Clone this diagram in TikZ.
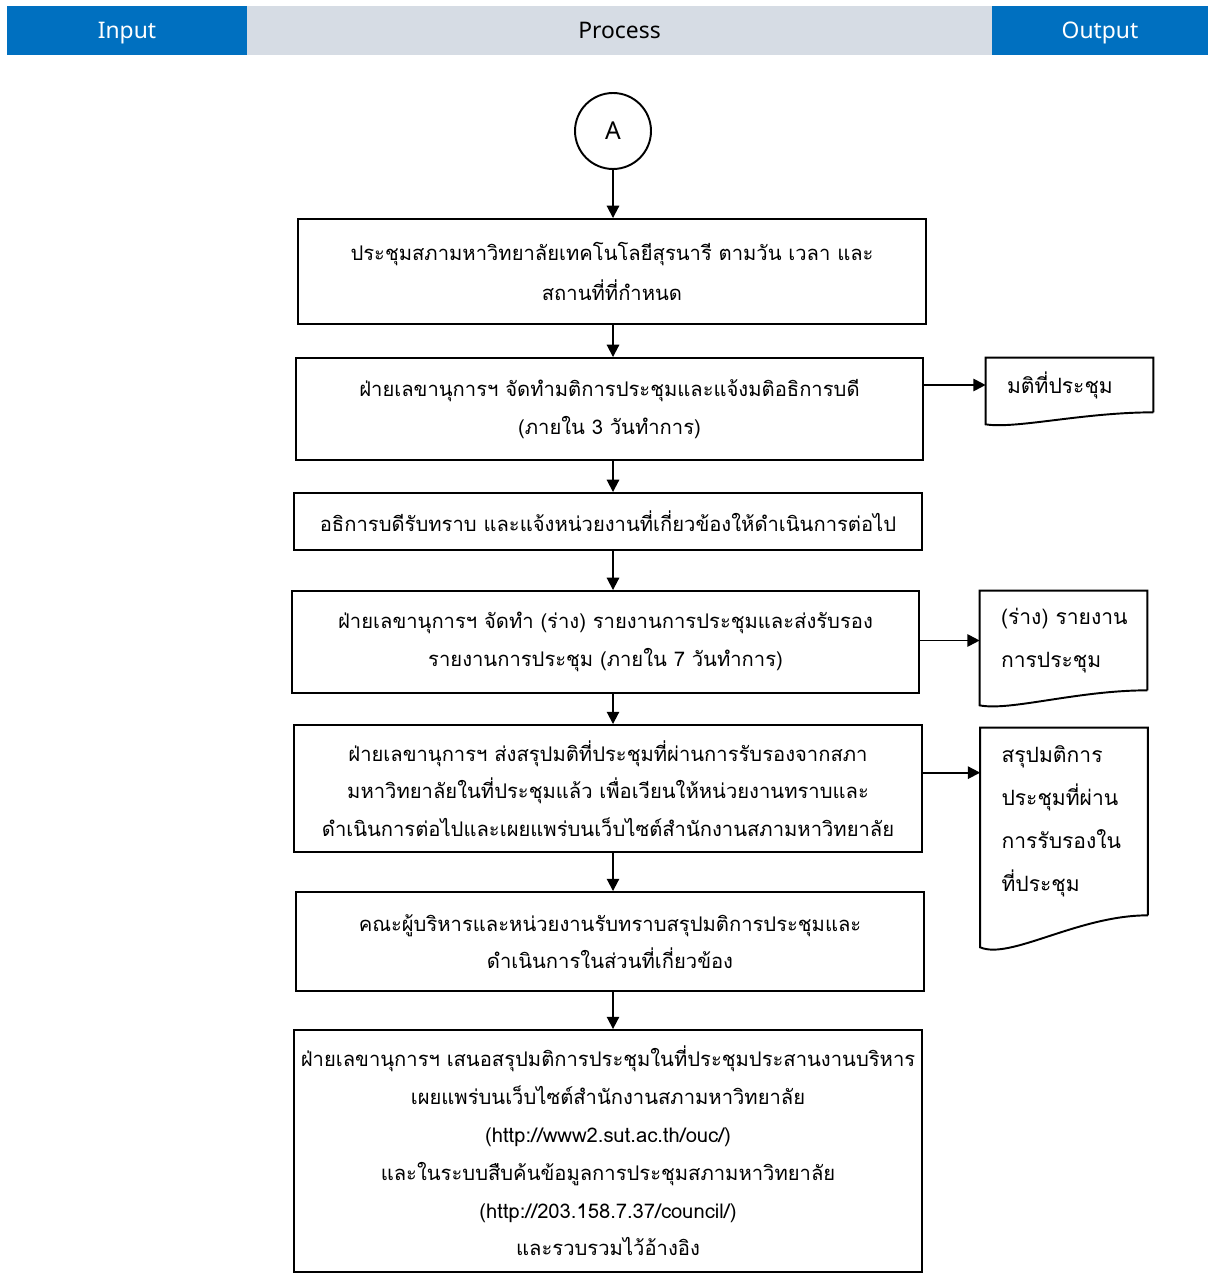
\documentclass[tikz,border=0pt]{standalone}
\usepackage{fontspec}
\setmainfont{Noto Sans}
\newfontfamily\thaifont[Script=Thai]{Loma}
\usetikzlibrary{arrows.meta}
\definecolor{headblue}{HTML}{0070C0}
\definecolor{headgray}{HTML}{D6DCE4}
\tikzset{
  headcell/.style={minimum height=0.98cm, inner sep=0pt, text height=2ex, text depth=0.3ex,
    font=\fontsize{13}{15}\selectfont},
  stepbox/.style={draw, line width=1.1pt, align=center, inner sep=0pt,
    font=\thaifont\fontsize{11.5}{21.5}\selectfont},
  docbox/.style={inner xsep=0.42cm, inner ysep=0pt, text width=2.5cm, align=left,
    minimum width=3.34cm, font=\thaifont\fontsize{12}{24.5}\selectfont},
  flow/.style={->, line width=1.1pt},
  >={Triangle[length=7pt,width=7pt]}
}
% outline of a document symbol round a node, #2 = drop of the left corner (px)
\newcommand\docoutline[2]{%
  \draw[line width=1.1pt] (#1.south east) -- (#1.north east) -- (#1.north west)
    -- ([yshift=-#2*0.02cm]#1.south west)
    .. controls +(30,0.4*#2) and +(-70,0) .. (#1.south east);}
\begin{document}
\begin{tikzpicture}[x=0.02cm, y=-0.02cm]
\useasboundingbox (0,0) rectangle (1208,1273);
% header
\node[headcell, fill=headblue, text=white, minimum width=4.8cm] (hin) at (127,30.5) {Input};
\node[headcell, fill=headgray, minimum width=14.9cm] (hproc) at (619.5,30.5) {Process};
\node[headcell, fill=headblue, text=white, minimum width=4.32cm] (hout) at (1100,30.5) {Output};
% connector
\node[draw, circle, line width=1.1pt, minimum size=1.52cm, font=\fontsize{14}{16}\selectfont] (a) at (613,131) {A};
% steps
\node[stepbox, minimum width=12.56cm, minimum height=2.1cm] (b1) at (612,271.5)
  {ประชุมสภามหาวิทยาลัยเทคโนโลยีสุรนารี ตามวัน เวลา และ\\[1.5pt]สถานที่ที่กำหนด};
\node[stepbox, minimum width=12.54cm, minimum height=2.04cm] (b2) at (609.5,409)
  {ฝ่ายเลขานุการฯ จัดทำมติการประชุมและแจ้งมติอธิการบดี\\(ภายใน 3 วันทำการ)};
\node[stepbox, minimum width=12.56cm, minimum height=1.14cm] (b3) at (608,521.5)
  {อธิการบดีรับทราบ และแจ้งหน่วยงานที่เกี่ยวข้องให้ดำเนินการต่อไป};
\node[stepbox, minimum width=12.54cm, minimum height=2.04cm] (b4) at (605.5,642)
  {ฝ่ายเลขานุการฯ จัดทำ (ร่าง) รายงานการประชุมและส่งรับรอง\\รายงานการประชุม (ภายใน 7 วันทำการ)};
\node[stepbox, minimum width=12.56cm, minimum height=2.54cm] (b5) at (608,788.5)
  {ฝ่ายเลขานุการฯ ส่งสรุปมติที่ประชุมที่ผ่านการรับรองจากสภา\\มหาวิทยาลัยในที่ประชุมแล้ว เพื่อเวียนให้หน่วยงานทราบและ\\ดำเนินการต่อไปและเผยแพร่บนเว็บไซต์สำนักงานสภามหาวิทยาลัย};
\node[stepbox, minimum width=12.56cm, minimum height=1.98cm] (b6) at (610,941.5)
  {คณะผู้บริหารและหน่วยงานรับทราบสรุปมติการประชุมและ\\ดำเนินการในส่วนที่เกี่ยวข้อง};
\node[stepbox, minimum width=12.56cm, minimum height=4.84cm] (b7) at (608,1151)
  {ฝ่ายเลขานุการฯ เสนอสรุปมติการประชุมในที่ประชุมประสานงานบริหาร\\เผยแพร่บนเว็บไซต์สำนักงานสภามหาวิทยาลัย\\(http://www2.sut.ac.th/ouc/)\\และในระบบสืบค้นข้อมูลการประชุมสภามหาวิทยาลัย\\(http://203.158.7.37/council/)\\และรวบรวมไว้อ้างอิง};
% outputs
\node[docbox, minimum height=1.08cm] (d1) at (1069.5,385) {มติที่ประชุม};
\node[docbox, minimum height=1.98cm] (d2) at (1063.5,640.5) {(ร่าง)~รายงาน\\การประชุม};
\node[docbox, minimum height=3.74cm] (d3) at (1064,821.5) {สรุปมติการ\\ประชุมที่ผ่าน\\การรับรองใน\\ที่ประชุม};
\docoutline{d1}{12}
\docoutline{d2}{15}
\docoutline{d3}{32}
\coordinate (d3in) at ([yshift=-0.9cm]d3.north west);
% arrows
\draw[flow] (a.south) -- (a.south |- b1.north);
\draw[flow] (a.south |- b1.south) -- (a.south |- b2.north);
\draw[flow] (a.south |- b2.south) -- (a.south |- b3.north);
\draw[flow] (a.south |- b3.south) -- (a.south |- b4.north);
\draw[flow] (a.south |- b4.south) -- (a.south |- b5.north);
\draw[flow] (a.south |- b5.south) -- (a.south |- b6.north);
\draw[flow] (a.south |- b6.south) -- (a.south |- b7.north);
\draw[flow] (b2.east |- d1.west) -- (d1.west);
\draw[flow] (b4.east |- d2.west) -- (d2.west);
\draw[flow] (b5.east |- d3in) -- (d3in);
\end{tikzpicture}
\end{document}
